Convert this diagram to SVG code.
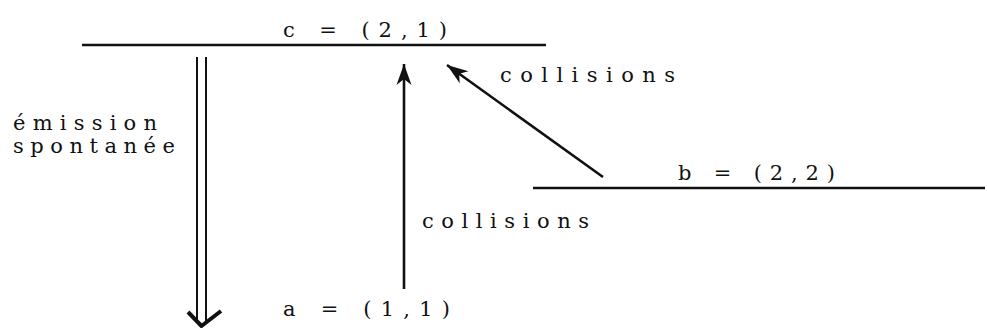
<svg xmlns="http://www.w3.org/2000/svg" width="987" height="332" viewBox="0 0 987 332">
<style>
text{font-family:"DejaVu Serif","Liberation Serif",serif;font-size:21px;fill:#111;letter-spacing:5px}
.lvl{stroke:#111;stroke-width:2.6;fill:none}
.ln{stroke:#111;stroke-width:2.6;fill:none}
.dbl{stroke:#111;stroke-width:2;fill:none}
</style>
<defs>
<marker id="ah" viewBox="-24 -10 26 20" markerWidth="26" markerHeight="20" refX="0" refY="0" orient="auto" markerUnits="userSpaceOnUse">
<path d="M0,0 L-21,-7.5 L-15,0 L-21,7.5 Z" fill="#111"/>
</marker>
</defs>
<g id="level-c">
<line class="lvl" x1="82" y1="45" x2="546" y2="45"/>
<text x="283" y="37" textLength="169" lengthAdjust="spacing">c = (2,1)</text>
</g>
<g id="level-b">
<line class="lvl" x1="533" y1="188" x2="985" y2="188"/>
<text x="678" y="180" textLength="162" lengthAdjust="spacing">b = (2,2)</text>
</g>
<g id="level-a">
<text x="283" y="316" textLength="172" lengthAdjust="spacing">a = (1,1)</text>
</g>
<g id="connectors">
<line class="dbl" x1="197" y1="57" x2="197" y2="322"/>
<line class="dbl" x1="206" y1="57" x2="206" y2="322"/>
<path d="M188,312 L201.5,326 L221,311" stroke="#111" stroke-width="4" fill="none" stroke-linejoin="round"/>
<line class="ln" x1="404" y1="289" x2="404" y2="64" marker-end="url(#ah)"/>
<line class="ln" x1="603" y1="177" x2="447" y2="65" marker-end="url(#ah)" stroke-width="3"/>
</g>
<g id="labels">
<text x="13" y="130" textLength="149" lengthAdjust="spacing">émission</text>
<text x="13" y="153" textLength="167" lengthAdjust="spacing">spontanée</text>
<text x="500" y="82" textLength="180" lengthAdjust="spacing">collisions</text>
<text x="422" y="228" textLength="172" lengthAdjust="spacing">collisions</text>
</g>
</svg>
